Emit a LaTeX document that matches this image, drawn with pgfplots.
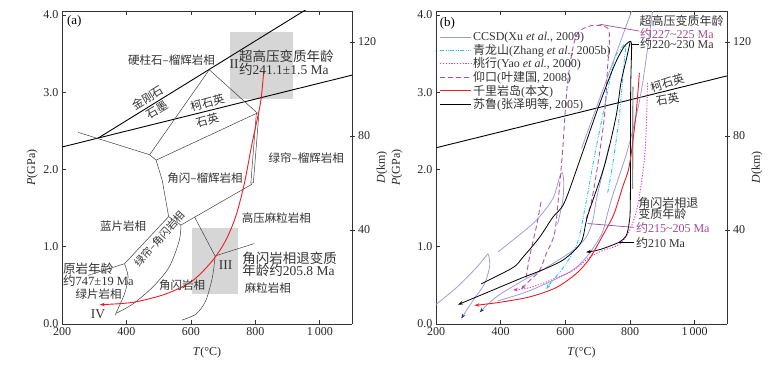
\documentclass[border=0pt]{standalone}
\usepackage{fontspec}
\setmainfont{Liberation Serif}
\newfontfamily\cjk{Noto Sans CJK SC}
\usepackage{pgfplots}
\pgfplotsset{compat=1.18}
\usetikzlibrary{arrows.meta}

\definecolor{lav}{HTML}{9C9CE0}
\definecolor{cya}{HTML}{2EC4EF}
\definecolor{mag}{HTML}{FF2FBF}
\definecolor{pur}{HTML}{B05598}
\definecolor{purtxt}{HTML}{A04A90}
\definecolor{qred}{HTML}{EE1C24}
\definecolor{navyarr}{HTML}{2A2A9A}
\definecolor{boxgray}{HTML}{D6D6D6}
\definecolor{txt}{HTML}{333333}

\newcommand{\zh}[1]{{\cjk #1}}
\newcommand{\fs}[1]{\fontsize{#1}{#1}\selectfont}

\tikzset{
  lab/.style={font=\fs{11.5}, text=txt, inner sep=0pt},
  age/.style={font=\fs{13.5}, text=txt, inner sep=0pt, anchor=west},
  labb/.style={font=\fs{12}, text=txt, inner sep=0pt, anchor=west},
  arr/.style={-{Stealth[length=5pt, width=3.5pt]}},
  fac/.style={black!75, line width=0.5pt},
}

\pgfplotsset{
  panel/.style={
    scale only axis, height=313pt,
    xmin=200, xmax=1100, ymin=0, ymax=4.05,
    axis y line*=left,
    axis line style={black!80, line width=0.8pt},
    xtick={200,400,600,800,1000}, xticklabels={200,400,600,800,1\,000},
    ytick={0,1,2,3,4},
    yticklabel style={/pgf/number format/fixed, /pgf/number format/fixed zerofill, /pgf/number format/precision=1},
    /pgf/number format/assume math mode=true,
    tick align=inside, major tick length=4pt,
    tick style={black!80, line width=0.7pt},
    ticklabel style={font=\fs{12}, text=black!85},
    label style={font=\fs{12}, text=black!85},
    xlabel={\textit{T}(°C)},
    xlabel style={at={(axis description cs:0.5,-0.093)}, anchor=center},
    ylabel={\textit{P}(GPa)},
    clip mode=individual,
  },
  depth/.style={
    scale only axis, height=313pt,
    xmin=200, xmax=1100, ymin=0, ymax=133.2,
    hide x axis, axis y line*=right,
    axis line style={black!80, line width=0.8pt},
    ytick={40,80,120},
    tick align=center, major tick length=5pt,
    tick style={black!80, line width=0.7pt},
    ticklabel style={font=\fs{12}, text=black!85},
    label style={font=\fs{12}, text=black!85},
    ylabel={\textit{D}(km)},
    /pgf/number format/assume math mode=true,
  },
}

\begin{document}
\begin{tikzpicture}
\useasboundingbox (0,0) rectangle (778pt,369pt);

% ---------------- panel (a) ----------------
\begin{axis}[panel, at={(62pt,45pt)}, anchor=south west, width=290pt,
  ylabel style={at={(axis description cs:-0.103,0.5)}, anchor=center}]
  % grey boxes
  \addplot[draw=none, fill=boxgray] coordinates {(721,2.91)(917,2.91)(917,3.78)(721,3.78)} -- cycle;
  \addplot[draw=none, fill=boxgray] coordinates {(602,0.39)(747,0.39)(747,1.24)(602,1.24)} -- cycle;

  % coesite-quartz and diamond-graphite
  \addplot[black, line width=0.9pt] coordinates {(200,2.29)(1100,3.22)};
  \addplot[black, line width=0.9pt] coordinates {(310,2.40)(962,4.08)};

  % facies boundaries
  \addplot[fac] coordinates {(250,2.48)(472,2.19)(492,2.12)};
  \addplot[fac] coordinates {(472,2.19)(657,3.29)(806,2.73)};
  \addplot[fac] coordinates {(492,2.12)(806,2.73)};
  \addplot[fac] coordinates {(803,2.72)(811,2.72)(794,1.83)(786,1.82)} -- cycle;
  \addplot[fac] coordinates {(492,2.12)(511,1.86)(531,1.39)};
  \addplot[fac] coordinates {(531,1.39)(394,0.78)};
  \addplot[fac] coordinates {(531,1.39)(569,1.28)(790,1.81)};
  \addplot[fac] coordinates {(394,0.78)(281,0.63)};
  \addplot[fac, smooth] coordinates {(394,0.78)(405,0.61)(394,0.39)(364,0.11)};
  \addplot[fac, smooth] coordinates {(569,1.28)(564,1.08)(533,0.74)(482,0.48)(420,0.26)(369,0.14)};
  \addplot[fac] coordinates {(612,1.38)(675,0.88)(796,1.04)};
  \addplot[fac, smooth] coordinates {(675,0.88)(667,0.61)(646,0.30)(616,0.13)(572,0.05)};

  % P-T path
  \addplot[qred, line width=0.9pt, smooth, arr] coordinates {
    (826,3.27)(816,2.86)(790,2.34)(765,1.80)(739,1.39)(708,1.08)
    (667,0.82)(605,0.56)(523,0.39)(420,0.28)(317,0.25)};

  % labels
  \node[lab, anchor=west, font=\fs{13}, text=black] at (axis cs:215,3.92) {(a)};
  \node[lab] at (axis cs:540,3.42) {\zh{硬柱石–榴辉岩相}};
  \node[lab, rotate=31] at (axis cs:466,2.93) {\zh{金刚石}};
  \node[lab, rotate=31] at (axis cs:497,2.77) {\zh{石墨}};
  \node[lab, rotate=16] at (axis cs:651,2.86) {\zh{柯石英}};
  \node[lab, rotate=16] at (axis cs:651,2.64) {\zh{石英}};
  \node[lab, font=\fs{13.5}] at (axis cs:734,3.36) {II};
  \node[age] at (axis cs:749,3.46) {\zh{超高压变质年龄}};
  \node[age] at (axis cs:749,3.29) {\zh{约}241.1±1.5 Ma};
  \node[lab] at (axis cs:958,2.14) {\zh{绿帘–榴辉岩相}};
  \node[lab] at (axis cs:644,1.89) {\zh{角闪–榴辉岩相}};
  \node[lab] at (axis cs:390,1.26) {\zh{蓝片岩相}};
  \node[lab, font=\fs{10.5}, rotate=48] at (axis cs:503,1.10) {\zh{绿帘–角闪岩相}};
  \node[lab] at (axis cs:865,1.37) {\zh{高压麻粒岩相}};
  \node[age] at (axis cs:759,0.85) {\zh{角闪岩相退变质}};
  \node[age] at (axis cs:759,0.69) {\zh{年龄约}205.8 Ma};
  \node[lab, font=\fs{13.5}] at (axis cs:708,0.76) {III};
  \node[lab] at (axis cs:839,0.46) {\zh{麻粒岩相}};
  \node[lab] at (axis cs:573,0.50) {\zh{角闪岩相}};
  \node[age, font=\fs{12.5}] at (axis cs:203,0.71) {\zh{原岩年龄}};
  \node[age, font=\fs{12.5}] at (axis cs:203,0.565) {\zh{约}747±19 Ma};
  \node[lab] at (axis cs:314,0.38) {\zh{绿片岩相}};
  \node[lab, font=\fs{13.5}] at (axis cs:312,0.13) {IV};
\end{axis}
\begin{axis}[depth, at={(62pt,45pt)}, anchor=south west, width=290pt,
  ylabel style={at={(axis description cs:1.103,0.5)}, anchor=center}]
\end{axis}

% ---------------- panel (b) ----------------
\begin{axis}[panel, at={(436pt,45pt)}, anchor=south west, width=291pt,
  ylabel style={at={(axis description cs:-0.134,0.5)}, anchor=center},
  legend style={at={(axis description cs:0.012,0.937)}, anchor=north west,
    draw=none, fill=none, font=\fs{12}, inner sep=0pt, row sep=-1pt,
    nodes={inner sep=1.5pt, text=txt}},
  legend cell align=left,
  legend image code/.code={\draw[#1] (0pt,0pt) -- (31pt,0pt);}]
  \addlegendimage{lav, line width=0.8pt}
  \addlegendentry{CCSD(Xu \textit{et al.}, 2009)}
  \addlegendimage{cya, line width=0.9pt, dash pattern=on 4pt off 1.5pt on 0.8pt off 1.5pt on 0.8pt off 1.5pt}
  \addlegendentry{\zh{青龙山}(Zhang \textit{et al.}, 2005b)}
  \addlegendimage{mag, line width=0.9pt, dash pattern=on 1.2pt off 1.6pt}
  \addlegendentry{\zh{桃行}(Yao \textit{et al.}, 2000)}
  \addlegendimage{pur, line width=0.9pt, dash pattern=on 5pt off 3pt}
  \addlegendentry{\zh{仰口}(\zh{叶建国}, 2008)}
  \addlegendimage{qred, line width=0.9pt}
  \addlegendentry{\zh{千里岩岛}(\zh{本文})}
  \addlegendimage{black, line width=0.8pt}
  \addlegendentry{\zh{苏鲁}(\zh{张泽明等}, 2005)}

  % coesite-quartz
  \addplot[black, line width=0.9pt, forget plot] coordinates {(200,2.28)(1100,3.21)};

  % CCSD
  \addplot[lav, line width=0.8pt, smooth, forget plot, -{Stealth[length=5pt, width=3.5pt, color=navyarr]}] coordinates {
    (196,0.24)(263,0.47)(325,0.73)(355,0.88)(362,0.90)(366,0.75)(350,0.52)(314,0.30)(278,0.07)};
  \addplot[lav, line width=0.8pt, smooth, forget plot] coordinates {
    (391,0.93)(448,1.12)(510,1.34)(561,1.62)(582,1.90)(590,1.96)(595,1.85)(592,1.60)(576,1.29)};
  \addplot[lav, line width=0.8pt, forget plot] coordinates {(805,4.05)(650,2.27)};
  \addplot[lav, line width=0.8pt, smooth, forget plot, -{Stealth[length=5pt, width=3.5pt, color=navyarr]}] coordinates {
    (735,2.3)(712,1.9)(695,1.59)(685,1.34)(664,1.12)(623,0.95)(541,0.73)(468,0.56)(386,0.35)(335,0.15)};
  \addplot[lav, line width=0.8pt, smooth, forget plot] coordinates {
    (870,4.05)(834,2.99)(793,2.26)(746,1.66)(730,1.42)(712,1.16)(664,0.86)(612,0.67)(489,0.43)(391,0.30)};

  % Qinglongshan
  \addplot[cya, line width=0.9pt, smooth, forget plot, dash pattern=on 4pt off 1.5pt on 0.8pt off 1.5pt on 0.8pt off 1.5pt,
    -{Stealth[length=5pt, width=3.5pt]}] coordinates {
    (731,1.70)(746,2.05)(767,2.69)(782,3.40)(787,3.62)
    (770,3.55)(751,3.42)(726,2.91)(690,2.17)(664,1.57)(638,1.06)(597,0.75)(556,0.54)(541,0.45)};

  % Taohang
  \addplot[mag, line width=0.9pt, smooth, forget plot, dash pattern=on 1.2pt off 1.6pt,
    -{Stealth[length=5pt, width=3.5pt]}] coordinates {
    (854,3.12)(851,2.6)(846,2.2)(836,1.85)(822,1.5)(800,1.22)(767,1.03)(715,0.95)(674,0.86)(623,0.69)(551,0.56)(489,0.47)(438,0.44)};

  % Yangkou
  \addplot[pur, line width=0.9pt, smooth, forget plot, dash pattern=on 5pt off 3pt,
    -{Stealth[length=5pt, width=3.5pt]}] coordinates {
    (664,1.36)(680,1.57)(700,2.05)(721,2.69)(731,3.34)(736,3.64)(731,3.83)(680,3.86)
    (633,3.72)(607,3.12)(592,2.26)(585,1.92)(578,1.6)(566,1.16)(541,0.91)(520,0.69)(489,0.56)(463,0.45)};
  \addplot[pur, line width=0.9pt, smooth, forget plot, dash pattern=on 5pt off 3pt] coordinates {
    (479,0.60)(489,0.86)(510,1.25)(525,1.59)};

  % Sulu
  \addplot[black, line width=0.8pt, smooth, forget plot] coordinates {
    (801,3.66)(782,3.59)(751,3.34)(700,2.78)(649,2.17)(597,1.57)(561,1.38)(520,1.12)(468,0.86)(438,0.73)(340,0.52)};
  \addplot[black, line width=0.8pt, smooth, forget plot, arr] coordinates {
    (801,3.66)(790,3.45)(772,3.12)(757,2.69)(721,2.05)(669,1.40)(649,1.06)(597,0.84)(535,0.71)(468,0.60)(365,0.42)(268,0.25)};
  \addplot[black, line width=0.8pt, smooth, forget plot, arr] coordinates {
    (801,3.66)(805,3.58)(802,3.0)(801,1.57)(797,1.30)(788,1.14)(767,1.06)(726,0.99)(695,0.95)(664,0.93)};
  \addplot[black!45, line width=1.2pt, forget plot] coordinates {(809,3.07)(808,1.75)};

  % this study
  \addplot[qred, line width=0.9pt, smooth, forget plot, arr] coordinates {
    (829,3.25)(818,2.69)(798,2.05)(777,1.77)(750,1.42)(715,1.14)(674,0.84)(633,0.65)(571,0.47)(489,0.35)(396,0.28)(319,0.24)};

  % leaders
  \addplot[purtxt, line width=0.7pt, forget plot] coordinates {(705,3.88)(829,3.79)};
  \addplot[black, line width=0.7pt, forget plot] coordinates {(805,3.62)(829,3.62)};
  \addplot[purtxt, line width=0.7pt, forget plot] coordinates {(669,1.30)(813,1.25)};
  \addplot[black, line width=0.7pt, forget plot] coordinates {(767,1.06)(813,1.06)};

  \node[lab, anchor=west, font=\fs{13}, text=black] at (axis cs:211,3.89) {(b)};
  \node[labb] at (axis cs:829,3.92) {\zh{超高压变质年龄}};
  \node[labb, text=purtxt] at (axis cs:831,3.75) {\zh{约}227\textasciitilde225 Ma};
  \node[labb] at (axis cs:831,3.62) {\zh{约}220\textasciitilde230 Ma};
  \node[lab, rotate=18] at (axis cs:915,3.12) {\zh{柯石英}};
  \node[lab, rotate=10] at (axis cs:916,2.91) {\zh{石英}};
  \node[labb] at (axis cs:825,1.57) {\zh{角闪岩相退}};
  \node[labb] at (axis cs:825,1.42) {\zh{变质年龄}};
  \node[labb, text=purtxt] at (axis cs:818,1.24) {\zh{约}215\textasciitilde205 Ma};
  \node[labb] at (axis cs:818,1.05) {\zh{约}210 Ma};
\end{axis}
\begin{axis}[depth, at={(436pt,45pt)}, anchor=south west, width=291pt,
  ylabel style={at={(axis description cs:1.103,0.5)}, anchor=center}]
\end{axis}
\end{tikzpicture}
\end{document}
